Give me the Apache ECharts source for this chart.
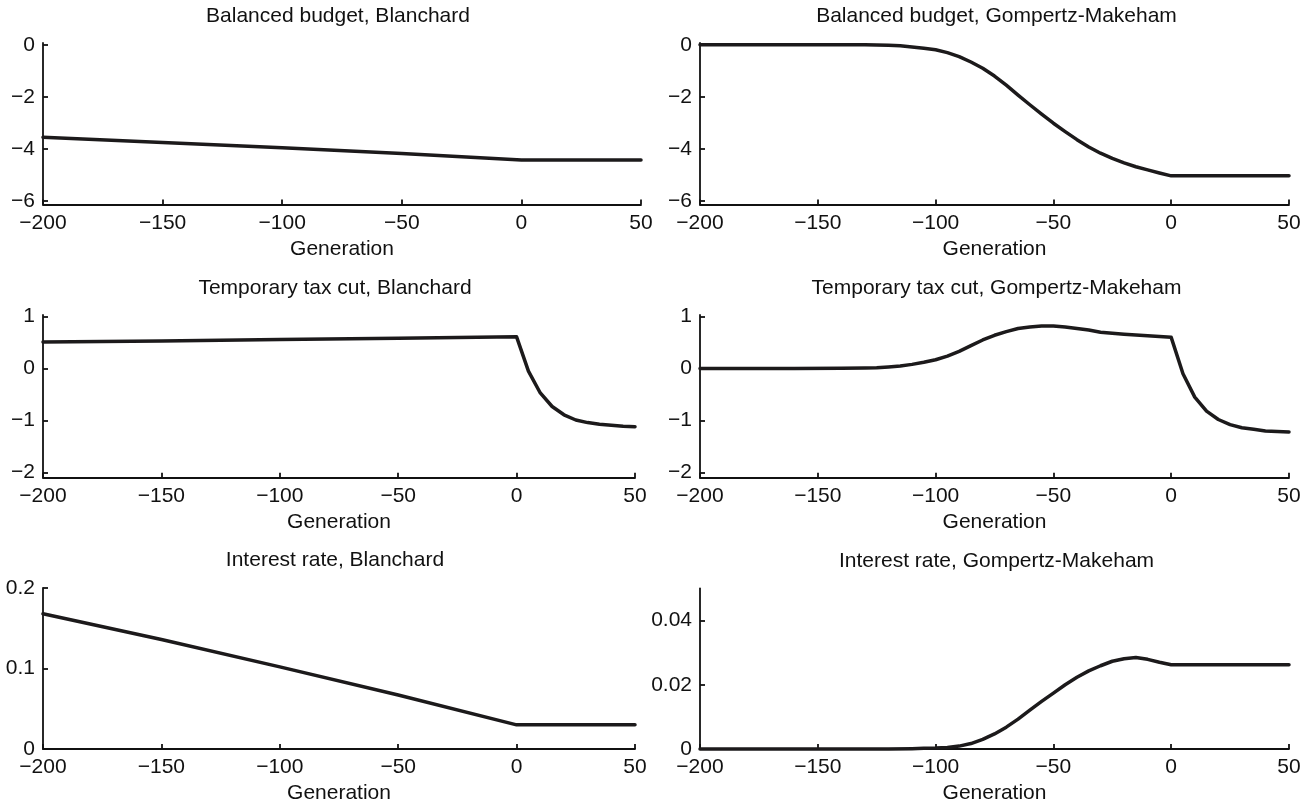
<!DOCTYPE html>
<html><head><meta charset="utf-8">
<script src="https://cdn.jsdelivr.net/npm/echarts@6/dist/echarts.min.js"></script>
<style>html,body{margin:0;padding:0;background:#fff}#c{width:1311px;height:805px}</style>
</head><body><div id="c"></div>
<script>
// ---- data ----
const panelTitles = [
  'Balanced budget, Blanchard',
  'Balanced budget, Gompertz-Makeham',
  'Temporary tax cut, Blanchard',
  'Temporary tax cut, Gompertz-Makeham',
  'Interest rate, Blanchard',
  'Interest rate, Gompertz-Makeham'
];
const xAxisName = 'Generation';
const genTicks = [-200, -150, -100, -50, 0, 50];

const bbBlanchardGen = [-200, -150, -100, -50, 0, 50];
const bbBlanchardVal = [-3.55, -3.75, -3.95, -4.17, -4.42, -4.42];

const bbGompertzGen = [-200, -150, -130, -125, -120, -115, -110, -105, -100, -95, -90, -85, -80, -75, -70, -65, -60, -55, -50, -45, -40, -35, -30, -25, -20, -15, -10, -5, 0, 10, 20, 30, 40, 50];
const bbGompertzVal = [0, 0, 0, -0.01, -0.02, -0.04, -0.08, -0.13, -0.19, -0.30, -0.45, -0.66, -0.90, -1.20, -1.55, -1.93, -2.30, -2.66, -3.01, -3.33, -3.64, -3.92, -4.16, -4.36, -4.53, -4.68, -4.80, -4.92, -5.03, -5.03, -5.03, -5.03, -5.03, -5.03];

const ttBlanchardGen = [-200, -150, -100, -50, 0, 5, 10, 15, 20, 25, 30, 35, 40, 45, 50];
const ttBlanchardVal = [0.51, 0.53, 0.56, 0.585, 0.61, -0.05, -0.47, -0.73, -0.89, -0.99, -1.04, -1.07, -1.09, -1.11, -1.12];

const ttGompertzGen = [-200, -160, -140, -130, -125, -120, -115, -110, -105, -100, -95, -90, -85, -80, -75, -70, -65, -60, -55, -50, -45, -40, -35, -30, -25, -20, -15, -10, -5, 0, 5, 10, 15, 20, 25, 30, 35, 40, 45, 50];
const ttGompertzVal = [0, 0, 0.005, 0.01, 0.015, 0.03, 0.05, 0.08, 0.12, 0.17, 0.24, 0.33, 0.44, 0.55, 0.64, 0.71, 0.77, 0.80, 0.82, 0.82, 0.80, 0.77, 0.74, 0.70, 0.68, 0.66, 0.645, 0.63, 0.615, 0.60, -0.10, -0.55, -0.82, -0.98, -1.08, -1.14, -1.17, -1.20, -1.21, -1.22];

const irBlanchardGen = [-200, -150, -100, -50, 0, 50];
const irBlanchardVal = [0.168, 0.136, 0.102, 0.067, 0.030, 0.030];

const irGompertzGen = [-200, -150, -120, -110, -105, -100, -95, -90, -85, -80, -75, -70, -65, -60, -55, -50, -45, -40, -35, -30, -25, -20, -15, -10, -5, 0, 10, 20, 30, 40, 50];
const irGompertzVal = [0, 0, 0, 0.0001, 0.0002, 0.0003, 0.0005, 0.0009, 0.0017, 0.0030, 0.0047, 0.0068, 0.0093, 0.0121, 0.0148, 0.0174, 0.0200, 0.0223, 0.0243, 0.0259, 0.0273, 0.0281, 0.0285, 0.0279, 0.0270, 0.0262, 0.0262, 0.0262, 0.0262, 0.0262, 0.0262];

const yTicksBB = [-6, -4, -2, 0];
const yTicksTT = [-2, -1, 0, 1];
const yTicksIRB = [0, 0.1, 0.2];
const yTicksIRG = [0, 0.02, 0.04];

// ---- layout / style ----
const FONT = "'Liberation Sans', Arial, Helvetica, sans-serif";
const INK = '#111111';
const FS = 21;
const grids = [
  {left: 43, top: 43, width: 598, height: 161.5},
  {left: 700, top: 43, width: 589, height: 161.5},
  {left: 43, top: 315, width: 592, height: 162.7},
  {left: 700, top: 315, width: 589, height: 162.7},
  {left: 43, top: 588, width: 592, height: 161.3},
  {left: 700, top: 588.3, width: 589, height: 161}
];
const yRanges = [[-6.13, 0.07], [-6.13, 0.07], [-2.1, 1.03], [-2.1, 1.03], [0, 0.2], [0, 0.05]];
const yTicks = [yTicksBB, yTicksBB, yTicksTT, yTicksTT, yTicksIRB, yTicksIRG];
const seriesData = [
  [bbBlanchardGen, bbBlanchardVal],
  [bbGompertzGen, bbGompertzVal],
  [ttBlanchardGen, ttBlanchardVal],
  [ttGompertzGen, ttGompertzVal],
  [irBlanchardGen, irBlanchardVal],
  [irGompertzGen, irGompertzVal]
];
const titleTops = [1, 1, 273, 273, 545, 546];
const titleShift = [-9, -3, -9, -3, -9, -3];

function fmt(v) {
  const s = String(Math.round(v * 10000) / 10000);
  return s.replace('-', '\u2212');
}

const option = {
  animation: false,
  backgroundColor: '#ffffff',
  textStyle: {fontFamily: FONT},
  title: panelTitles.map((t, i) => ({
    text: t,
    left: grids[i].left + grids[i].width / 2 + titleShift[i],
    top: titleTops[i],
    textAlign: 'center',
    textStyle: {fontFamily: FONT, fontSize: FS, fontWeight: 'normal', color: INK}
  })),
  grid: grids.map(g => Object.assign({containLabel: false}, g)),
  xAxis: grids.map((g, i) => ({
    type: 'value',
    gridIndex: i,
    min: -200, max: 50, interval: 50,
    name: xAxisName,
    nameLocation: 'middle',
    nameGap: 34,
    nameTextStyle: {fontFamily: FONT, fontSize: FS, color: INK},
    axisLine: {show: true, onZero: false, lineStyle: {color: INK, width: 1.8}},
    axisTick: {show: true, inside: true, length: 5, lineStyle: {color: INK, width: 1.8}},
    axisLabel: {show: true, margin: 8, fontFamily: FONT, fontSize: FS, color: INK, formatter: fmt, showMinLabel: true, showMaxLabel: true},
    splitLine: {show: false}
  })),
  yAxis: grids.map((g, i) => ({
    type: 'value',
    gridIndex: i,
    min: yRanges[i][0], max: yRanges[i][1],
    axisLine: {show: true, onZero: false, lineStyle: {color: INK, width: 1.8}},
    axisTick: {show: true, inside: true, length: 5, customValues: yTicks[i], lineStyle: {color: INK, width: 1.8}},
    axisLabel: {show: true, margin: 8, fontFamily: FONT, fontSize: FS, color: INK, customValues: yTicks[i], formatter: fmt},
    splitLine: {show: false}
  })),
  series: seriesData.map((d, i) => ({
    type: 'line',
    xAxisIndex: i,
    yAxisIndex: i,
    data: d[0].map((x, k) => [x, d[1][k]]),
    showSymbol: false,
    symbol: 'none',
    clip: false,
    lineStyle: {color: '#1c1a1b', width: 3.5, join: 'round', cap: 'round'},
    emphasis: {disabled: true}
  }))
};

const chart = echarts.init(document.getElementById('c'), null, {renderer: 'canvas'});
chart.setOption(option);
</script>
</body></html>
